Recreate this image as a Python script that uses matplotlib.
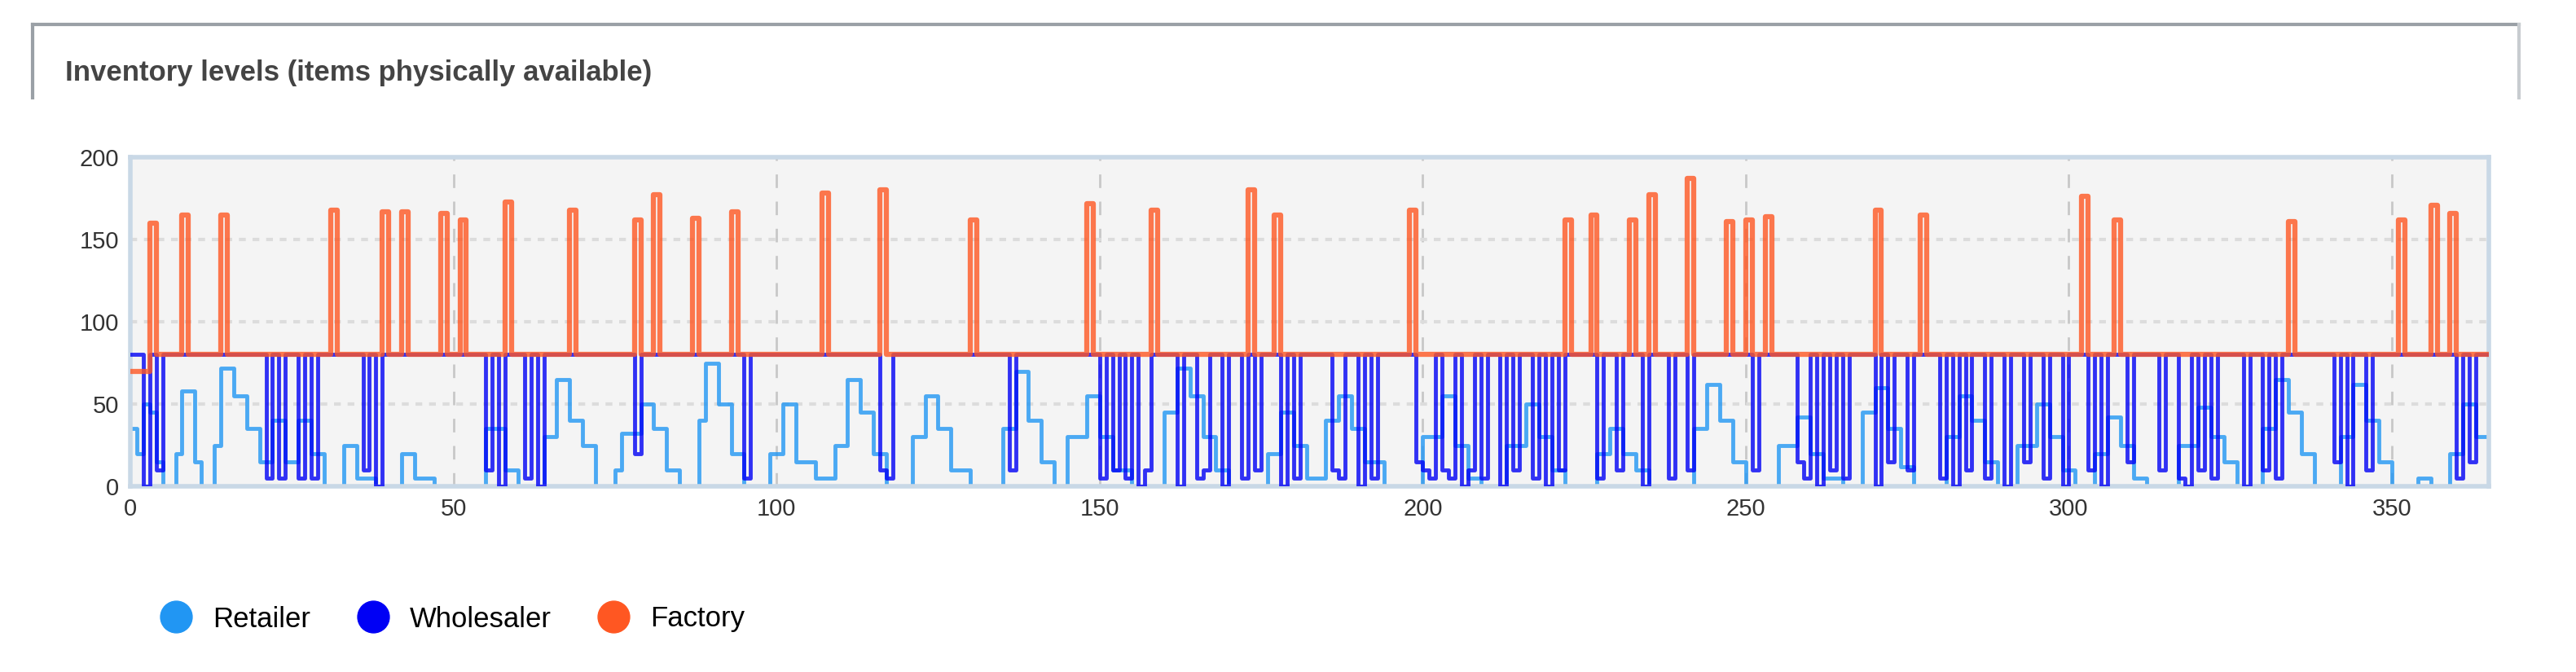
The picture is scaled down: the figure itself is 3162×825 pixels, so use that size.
import numpy as np
import matplotlib.pyplot as plt
from matplotlib.lines import Line2D

plt.rcParams['font.family'] = ['Liberation Sans', 'DejaVu Sans']

days = np.arange(0, 366)

# factory: baseline 80 (70 at start), one-day spikes
factory_spike_days = [3, 8, 14, 31, 39, 42, 48, 51, 58, 68, 78, 81, 87, 93, 107, 116, 130, 148, 158,
                      173, 177, 198, 222, 226, 232, 235, 241, 247, 250, 253, 270, 277, 302, 307, 334,
                      351, 356, 359]
factory_spike_vals = [160, 165, 165, 168, 167, 167, 166, 162, 173, 168, 162, 177, 163, 167, 178, 180,
                      162, 172, 168, 180, 165, 168, 162, 165, 162, 177, 187, 161, 162, 164, 168, 165,
                      176, 162, 161, 162, 171, 166]

# wholesaler: sits at 80, dips for about a day
wh_dip_days = [2, 4, 21, 23, 26, 28, 36, 38, 55, 57, 61, 63, 78, 95, 116, 117, 136, 150, 152, 154,
               156, 157, 162, 165, 166, 169, 172, 174, 178, 180, 186, 187, 190, 192, 199, 200, 201,
               203, 204, 206, 207, 209, 212, 214, 217, 219, 221, 227, 230, 234, 238, 241, 251,
               258, 259, 261, 263, 265, 270, 272, 275, 280, 282, 284, 287, 290, 293, 296, 299, 303,
               305, 309, 314, 317, 318, 320, 322, 327, 330, 332, 341, 343, 346, 360, 362]
wh_dip_vals = [0, 10, 5, 5, 5, 5, 10, 0, 10, 0, 5, 0, 20, 5, 10, 5, 10, 5, 10, 5, 0, 10, 0, 5, 10, 0,
               5, 10, 0, 5, 10, 5, 0, 5, 15, 10, 5, 10, 5, 0, 10, 5, 0, 10, 5, 0, 10, 5, 10, 0, 5,
               10, 10, 15, 5, 0, 10, 5, 0, 15, 10, 5, 0, 10, 5, 0, 15, 5, 0, 10, 0, 15, 10, 5, 0, 10,
               5, 0, 10, 5, 15, 0, 10, 5, 15]

# retailer: change points (day, level)
ret_pts = [(0, 35), (1, 20), (2, 50), (3, 45), (4, 15), (5, 0), (7, 20), (8, 58), (10, 15), (11, 0),
           (13, 25), (14, 72), (16, 55), (18, 35), (20, 15), (22, 40), (24, 15), (26, 40), (28, 20),
           (30, 0), (33, 25), (35, 5), (38, 0), (42, 20), (44, 5), (47, 0), (55, 35), (58, 10), (60, 0),
           (64, 30), (66, 65), (68, 40), (70, 25), (72, 0), (75, 10), (76, 32), (79, 50), (81, 35),
           (83, 10), (85, 0), (88, 40), (89, 75), (91, 50), (93, 20), (95, 0), (99, 20), (101, 50),
           (103, 15), (106, 5), (109, 25), (111, 65), (113, 45), (115, 20), (117, 0), (121, 30),
           (123, 55), (125, 35), (127, 10), (130, 0), (135, 35), (137, 70), (139, 40), (141, 15),
           (143, 0), (145, 30), (148, 55), (150, 30), (152, 10), (155, 0), (160, 45), (162, 72),
           (164, 55), (166, 30), (168, 10), (170, 0), (176, 20), (178, 45), (180, 25), (182, 5),
           (185, 40), (187, 55), (189, 35), (191, 15), (194, 0), (200, 30), (203, 55), (205, 25),
           (207, 5), (209, 0), (213, 25), (216, 50), (218, 30), (220, 10), (222, 0), (227, 20),
           (229, 35), (231, 20), (233, 10), (235, 0), (242, 35), (244, 62), (246, 40), (248, 15),
           (250, 0), (255, 25), (258, 42), (260, 20), (262, 5), (265, 0), (268, 45), (270, 60),
           (272, 35), (274, 12), (276, 0), (281, 30), (283, 55), (285, 40), (287, 15), (289, 0),
           (292, 25), (295, 50), (297, 30), (299, 10), (301, 0), (304, 20), (306, 42), (308, 25),
           (310, 5), (312, 0), (317, 25), (320, 48), (322, 30), (324, 15), (326, 0), (330, 35),
           (332, 65), (334, 45), (336, 20), (338, 0), (342, 30), (344, 62), (346, 40), (348, 15),
           (350, 0), (354, 5), (356, 0), (359, 20), (361, 50), (363, 30), (365, 20)]

factory = np.full(len(days), 80.0)
factory[:3] = 70
for d, v in zip(factory_spike_days, factory_spike_vals):
    factory[d] = v

wholesaler = np.full(len(days), 80.0)
for d, v in zip(wh_dip_days, wh_dip_vals):
    wholesaler[d] = v

retailer = np.zeros(len(days))
for i, (d, v) in enumerate(ret_pts):
    end = ret_pts[i + 1][0] if i + 1 < len(ret_pts) else len(days)
    retailer[d:end] = v

c_ret, c_wh, c_fac = '#2196F3', '#0000F5', '#FF5722'

fig = plt.figure(figsize=(31.62, 8.25), dpi=100)
ax = fig.add_axes([160 / 3162, 1 - 597 / 825, (3055 - 160) / 3162, (597 - 193) / 825])
ax.set_facecolor('#f4f4f4')
ax.step(days, retailer, where='post', color=c_ret, lw=3.5, alpha=0.8, zorder=2)
ax.step(days, wholesaler, where='post', color=c_wh, lw=3.5, alpha=0.8, zorder=3)
ax.step(days, factory, where='post', color=c_fac, lw=4.5, alpha=0.8, zorder=4)
ax.set_xlim(0, 365)
ax.set_ylim(0, 200)
ax.set_xticks(range(0, 366, 50))
ax.set_yticks(range(0, 201, 50))
ax.xaxis.grid(True, ls=(0, (6, 6)), color='#c8c8c8', lw=2)
ax.yaxis.grid(True, ls=(0, (2, 2)), color='#dcdcdc', lw=3)
ax.set_axisbelow(True)
for s in ax.spines.values():
    s.set_color('#c9d8e6')
    s.set_linewidth(4)
ax.tick_params(labelsize=21, colors='#333333', length=0, pad=10)

# header box
fig.add_artist(Line2D([40 / 3162, 3092 / 3162], [1 - 30 / 825] * 2, color='#9aa0a6', lw=3))
fig.add_artist(Line2D([40 / 3162] * 2, [1 - 30 / 825, 1 - 120 / 825], color='#9aa0a6', lw=3))
fig.add_artist(Line2D([3092 / 3162] * 2, [1 - 30 / 825, 1 - 120 / 825], color='#c8ccd0', lw=3))
fig.text(80 / 3162, 1 - 90 / 825, 'Inventory levels (items physically available)',
         fontsize=25, color='#444444', fontweight='bold', va='center')

handles = [Line2D([], [], marker='o', ls='', ms=28, color=c) for c in (c_ret, c_wh, c_fac)]
fig.legend(handles, ['Retailer', 'Wholesaler', 'Factory'], loc='center left',
           bbox_to_anchor=(150 / 3162, 1 - 760 / 825), ncol=3, frameon=False, fontsize=25,
           handletextpad=0.3, columnspacing=1.2)

fig.savefig('out.png', dpi=100)
